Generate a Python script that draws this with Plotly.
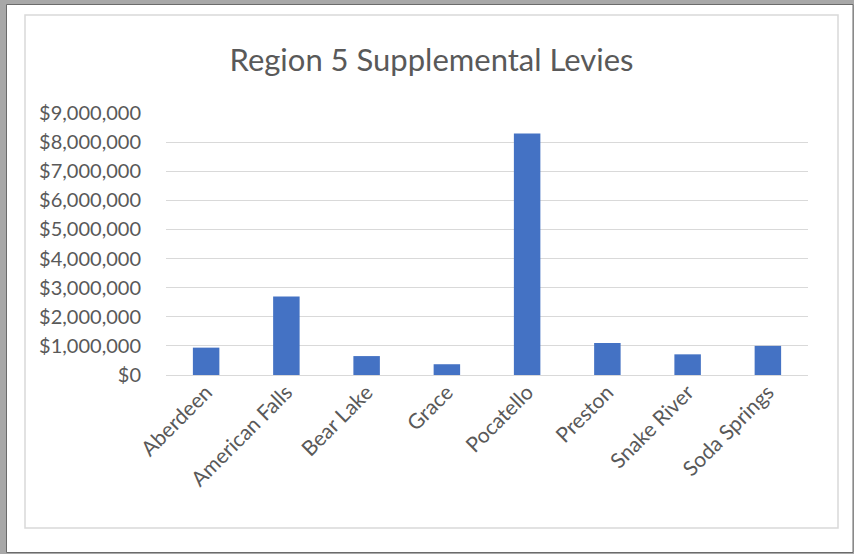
import plotly.graph_objects as go

districts = ["Aberdeen", "American Falls", "Bear Lake", "Grace", "Pocatello",
             "Preston", "Snake River", "Soda Springs"]
levies = [940000, 2700000, 650000, 370000, 8300000, 1100000, 710000, 1000000]
ytick_vals = [0, 1e6, 2e6, 3e6, 4e6, 5e6, 6e6, 7e6, 8e6, 9e6]
ytick_text = ["$0", "$1,000,000", "$2,000,000", "$3,000,000", "$4,000,000",
              "$5,000,000", "$6,000,000", "$7,000,000", "$8,000,000", "$9,000,000"]

W, H = 854, 554
L, R, T, B = 166, 808, 113, 375  # plot area in px


def px(x):
    return (x - L) / (R - L)


def py(y):
    return (B - y) / (B - T)


fig = go.Figure(go.Bar(x=districts, y=levies, marker_color="#4472C4",
                       marker_line_width=0, width=0.33))

shapes = [
    # outer white frame with dark border
    dict(type="rect", xref="paper", yref="paper", x0=px(6.5), x1=px(853),
         y0=py(552.5), y1=py(4.5), fillcolor="white",
         line=dict(color="#6b6b6b", width=1), layer="below"),
    # inner chart border
    dict(type="rect", xref="paper", yref="paper", x0=px(25), x1=px(838),
         y0=py(528), y1=py(15), fillcolor="white",
         line=dict(color="#d9d9d9", width=1.5), layer="below"),
]

fig.update_layout(
    width=W, height=H,
    margin=dict(l=L, r=W - R, t=T, b=H - B, pad=0),
    paper_bgcolor="#a8a8a8",
    plot_bgcolor="white",
    shapes=shapes,
    showlegend=False,
    title=dict(text="Region 5 Supplemental Levies", x=431.5 / W, xanchor="center",
               xref="container",
               y=1 - 60 / H, yanchor="middle", yref="container",
               font=dict(family="Lato", size=31, color="#595959")),
    font=dict(family="Lato", color="#595959"),
)
fig.update_xaxes(tickangle=-45, tickfont=dict(size=21, color="#595959"),
                 showgrid=False, showline=False, ticks="", ticklen=0)
fig.update_yaxes(range=[0, 9e6], tickvals=ytick_vals, ticktext=ytick_text,
                 tickfont=dict(size=20, color="#595959"),
                 showgrid=True, gridcolor="#d9d9d9", gridwidth=1,
                 zeroline=True, zerolinecolor="#d9d9d9", zerolinewidth=1,
                 showline=False, ticks="", ticklabelstandoff=24)

fig.write_html("out.html", config={"displayModeBar": False},
               post_script="document.body.style.margin='0';document.body.style.overflow='hidden';")
